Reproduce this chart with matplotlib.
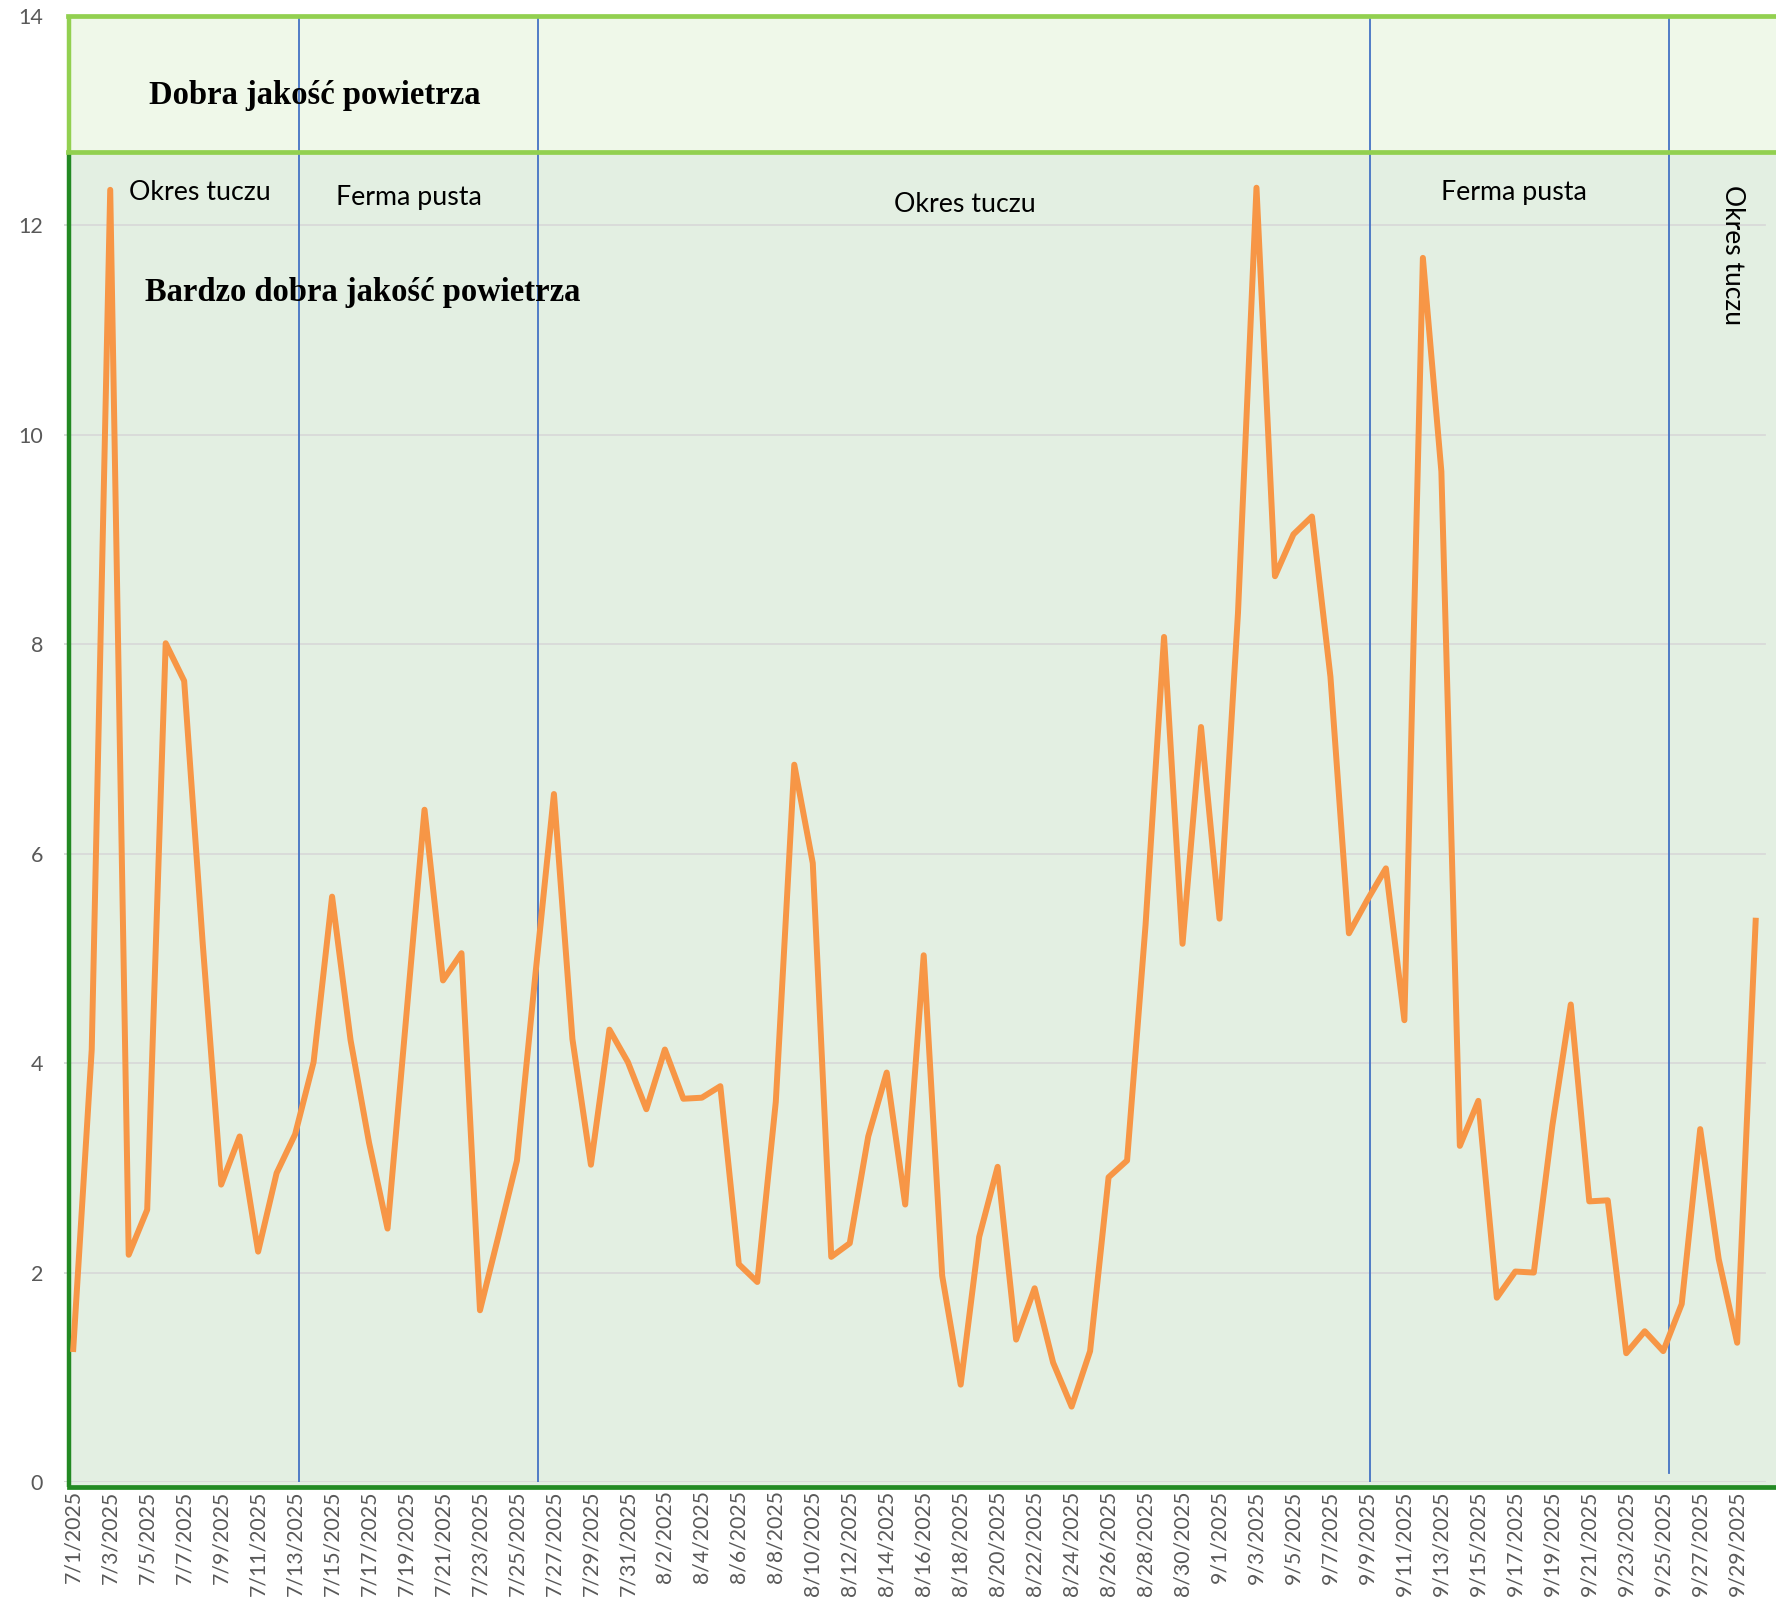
import matplotlib
matplotlib.use("Agg")
import matplotlib.pyplot as plt
from matplotlib.patches import Rectangle
import pandas as pd

# daily readings, 1 Jul - 30 Sep 2025
dates = pd.date_range("2025-07-01", "2025-09-30", freq="D")
values = [
    1.27, 4.13, 12.34, 2.17, 2.60, 8.01, 7.65, 5.15, 2.84, 3.30,
    2.20, 2.95, 3.32, 4.01, 5.59, 4.22, 3.24, 2.42, 4.42, 6.42,
    4.79, 5.05, 1.64, 2.35, 3.07, 4.85, 6.57, 4.23, 3.03, 4.32,
    4.01, 3.56, 4.13, 3.66, 3.67, 3.78, 2.08, 1.91, 3.63, 6.85,
    5.91, 2.15, 2.28, 3.30, 3.91, 2.65, 5.03, 1.97, 0.93, 2.34,
    3.01, 1.36, 1.85, 1.14, 0.72, 1.25, 2.91, 3.07, 5.32, 8.07,
    5.14, 7.21, 5.38, 8.30, 12.36, 8.65, 9.05, 9.22, 7.69, 5.24,
    5.56, 5.86, 4.41, 11.69, 9.65, 3.21, 3.64, 1.76, 2.01, 2.00,
    3.40, 4.56, 2.68, 2.69, 1.23, 1.44, 1.25, 1.70, 3.37, 2.13,
    1.33, 5.36,
]
tick_labels = [f"{d.month}/{d.day}/{d.year}" for d in dates]

# quality bands (lower, upper limit)
band_very_good = (0.0, 12.7)
band_good = (12.7, 14.0)

# farm period markers (category positions) and their labels
period_breaks = [12.2, 25.15, 70.15, 86.3]
period_labels = [
    (3.0, 12.31, "Okres tuczu"),
    (14.2, 12.27, "Ferma pusta"),
    (44.4, 12.20, "Okres tuczu"),
    (74.0, 12.31, "Ferma pusta"),
]

fig = plt.figure(figsize=(17.76, 15.99), dpi=100)
ax = fig.add_axes([64 / 1776, 1 - 1482 / 1599, 1 - 64 / 1776, (1482 - 16) / 1599])
x = list(range(len(values)))

ax.set_xlim(-0.5, 92.1)
ax.set_ylim(0, 14)
for s in ax.spines.values():
    s.set_visible(False)
ax.set_facecolor("white")

# background bands
ax.add_patch(Rectangle((-0.24, -0.05), 100, band_very_good[1] + 0.05, facecolor="#e3efe2",
                       edgecolor="none", zorder=0, clip_on=False))
ax.add_patch(Rectangle((-0.24, band_good[0]), 100, band_good[1] - band_good[0], facecolor="#eff8e9",
                       edgecolor="none", zorder=0, clip_on=False))
ax.plot([-0.24, -0.24], [-0.05, band_very_good[1]], color="#238a23", lw=3.2, zorder=3,
        clip_on=False, solid_capstyle="butt")
ax.plot([-0.24, 100], [-0.05, -0.05], color="#238a23", lw=3.4, zorder=3, clip_on=False)
ax.plot([-0.24, -0.24], [band_good[0], band_good[1]], color="#92d050", lw=3.2, zorder=3,
        clip_on=False, solid_capstyle="butt")
ax.plot([-0.26, 100], [band_good[0], band_good[0]], color="#92d050", lw=3.4, zorder=3, clip_on=False)
ax.plot([-0.26, 100], [band_good[1], band_good[1]], color="#92d050", lw=3.4, zorder=3, clip_on=False)

# gridlines
for yv in range(0, 13, 2):
    ax.plot([-0.5, 91.5], [yv, yv], color="#d9d9d9", lw=1.3, zorder=1)

# period separators
for i, xb in enumerate(period_breaks):
    y0 = 0.09 if i == len(period_breaks) - 1 else -0.05
    ax.plot([xb, xb], [y0, 14], color="#4472c4", lw=1.3, zorder=2)

ax.plot(x, values, color="#f79646", lw=4.3, zorder=4)

ax.set_yticks(range(0, 15, 2))
ax.set_yticklabels([str(v) for v in range(0, 15, 2)], fontsize=15.5, color="#595959",
                   family="Lato")
ax.set_xticks(x[::2])
ax.set_xticklabels(tick_labels[::2], rotation=90, fontsize=15.3, color="#595959",
                   family="Lato")
ax.tick_params(axis="both", length=0)
ax.tick_params(axis="y", pad=15)
ax.tick_params(axis="x", pad=6)

ax.text(4.1, 13.24, "Dobra jakość powietrza", fontsize=23.5, fontweight="bold",
        family="Liberation Serif", va="center", ha="left", zorder=5)
ax.text(3.86, 11.36, "Bardzo dobra jakość powietrza", fontsize=23.5, fontweight="bold",
        family="Liberation Serif", va="center", ha="left", zorder=5)
for xt, yt, label in period_labels:
    ax.text(xt, yt, label, fontsize=19.3, family="Lato", va="center", ha="left", zorder=5)
ax.text(89.75, 11.72, "Okres tuczu", fontsize=19, family="Lato", rotation=270,
        va="center", ha="center", zorder=5)

fig.savefig("out.png", dpi=100)
